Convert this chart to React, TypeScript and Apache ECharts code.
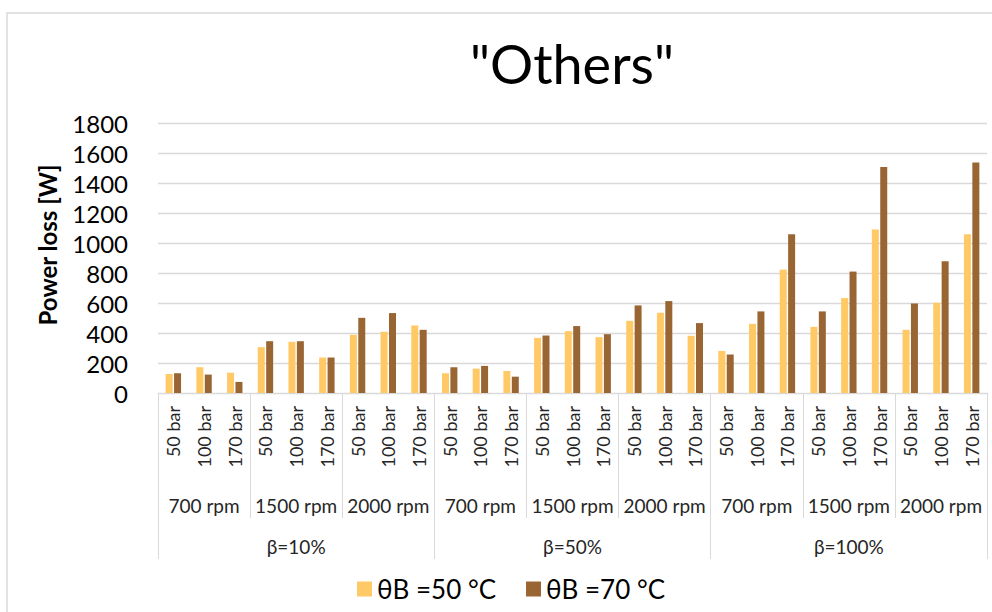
import React, { useEffect, useRef } from "react";
import * as echarts from "echarts";

const pressureLabels = [
  "50 bar", "100 bar", "170 bar", "50 bar", "100 bar", "170 bar", "50 bar", "100 bar", "170 bar",
  "50 bar", "100 bar", "170 bar", "50 bar", "100 bar", "170 bar", "50 bar", "100 bar", "170 bar",
  "50 bar", "100 bar", "170 bar", "50 bar", "100 bar", "170 bar", "50 bar", "100 bar", "170 bar",
];
const speedLabels = [
  "700 rpm", "1500 rpm", "2000 rpm",
  "700 rpm", "1500 rpm", "2000 rpm",
  "700 rpm", "1500 rpm", "2000 rpm",
];
const betaLabels = ["β=10%", "β=50%", "β=100%"];

const series50Name = "θB =50 °C";
const series70Name = "θB =70 °C";

const values50 = [
  127, 172, 136, 306, 342, 237, 389, 409, 451,
  132, 163, 147, 368, 413, 373, 482, 536, 382,
  281, 462, 824, 442, 634, 1092, 422, 603, 1061,
];
const values70 = [
  132, 123, 74, 346, 346, 237, 502, 534, 422,
  172, 181, 109, 384, 447, 393, 585, 614, 467,
  257, 545, 1061, 545, 811, 1510, 598, 880, 1539,
];

const yTicks = { min: 0, max: 1800, interval: 200 };

export default function App() {
  const ref = useRef<HTMLDivElement>(null);

  useEffect(() => {
    if (!ref.current) return;
    const chart = echarts.init(ref.current, null, { renderer: "svg" });
    const font = "Lato";
    const grey = "#d9d9d9";
    chart.setOption({
      animation: false,
      backgroundColor: "#ffffff",
      textStyle: { fontFamily: font },
      title: {
        text: '"Others"',
        left: 567,
        top: 31,
        textAlign: "center",
        textStyle: { fontFamily: font, fontSize: 54, fontWeight: "normal", color: "#000000" },
      },
      legend: {
        left: 352,
        top: 571,
        itemWidth: 15,
        itemHeight: 15,
        itemGap: 30,
        icon: "rect",
        textStyle: { fontFamily: font, fontSize: 26, color: "#000000", width: 118 },
        data: [series50Name, series70Name],
      },
      grid: { left: 158, right: 5, top: 123.5, bottom: 219 },
      xAxis: [
        {
          type: "category",
          data: pressureLabels,
          position: "bottom",
          axisLine: { show: true, lineStyle: { color: grey, width: 1 } },
          axisTick: { show: false },
          axisLabel: {
            rotate: 90,
            interval: 0,
            margin: 13,
            fontFamily: font,
            fontSize: 18,
            color: "#262626",
          },
          splitLine: { show: false },
        },
        {
          type: "category",
          data: speedLabels,
          position: "bottom",
          axisLine: { show: false },
          axisTick: { show: true, length: 125, lineStyle: { color: grey, width: 1 } },
          axisLabel: { interval: 0, margin: 103, fontFamily: font, fontSize: 19, color: "#262626" },
          splitLine: { show: false },
        },
        {
          type: "category",
          data: betaLabels,
          position: "bottom",
          axisLine: { show: false },
          axisTick: { show: true, length: 166, lineStyle: { color: grey, width: 1 } },
          axisLabel: { interval: 0, margin: 144, fontFamily: font, fontSize: 19, color: "#262626" },
          splitLine: { show: false },
        },
      ],
      yAxis: {
        type: "value",
        min: yTicks.min,
        max: yTicks.max,
        interval: yTicks.interval,
        axisLine: { show: false },
        axisTick: { show: false },
        axisLabel: {
          margin: 30,
          fontFamily: font,
          fontSize: 24,
          color: "#000000",
          formatter: (v: number) => String(v),
        },
        splitLine: { show: true, lineStyle: { color: grey, width: 1.3 } },
      },
      series: [
        {
          name: series50Name,
          type: "bar",
          data: values50,
          barWidth: 7,
          barGap: "20%",
          itemStyle: { color: "#FFC966" },
        },
        {
          name: series70Name,
          type: "bar",
          data: values70,
          barWidth: 7,
          itemStyle: { color: "#996633" },
        },
      ],
      graphic: [
        {
          type: "rect",
          shape: { x: 7, y: 13, width: 1000, height: 700 },
          style: { fill: "none", stroke: grey, lineWidth: 1.5 },
          silent: true,
        },
        {
          type: "text",
          x: 47,
          y: 245,
          rotation: Math.PI / 2,
          style: {
            text: "Power loss [W]",
            fontFamily: font,
            fontSize: 24,
            fontWeight: "bold",
            fill: "#000000",
            align: "center",
            verticalAlign: "middle",
          },
        },
      ],
    });
    return () => chart.dispose();
  }, []);

  return (
    <div
      ref={ref}
      style={{ position: "fixed", left: 0, top: 0, width: 992, height: 612 }}
    />
  );
}
